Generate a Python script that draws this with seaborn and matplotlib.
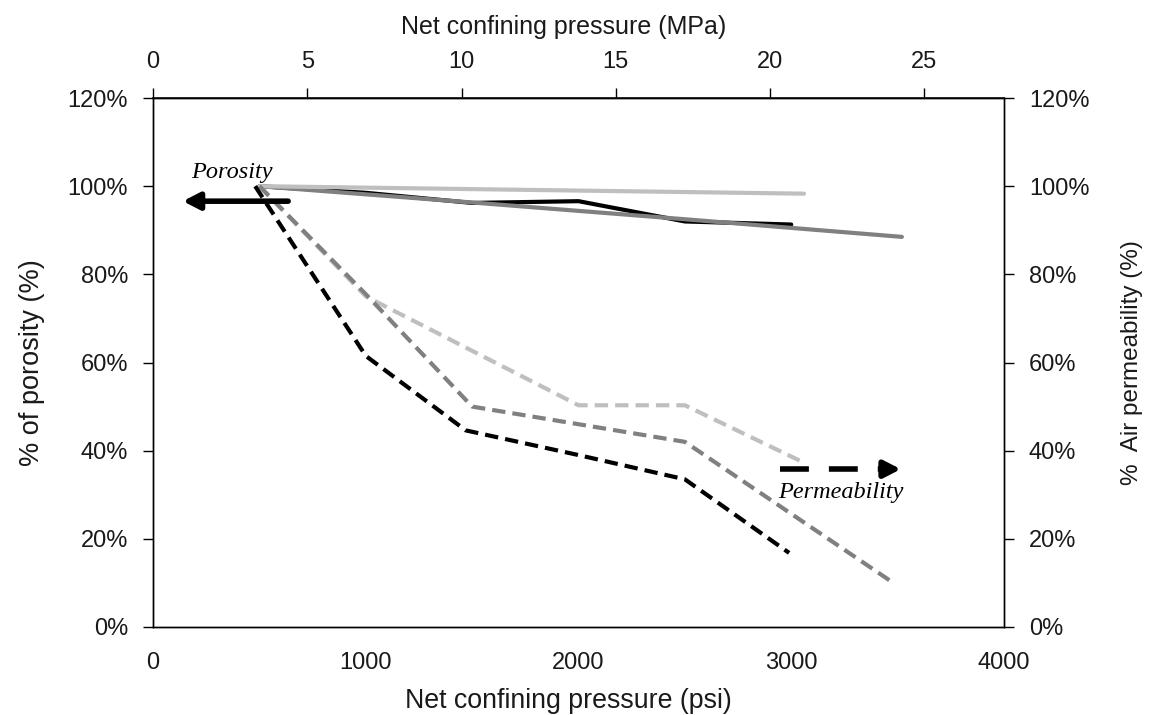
import matplotlib
matplotlib.use("Agg")
import matplotlib.pyplot as plt
from matplotlib.ticker import FuncFormatter
import seaborn as sns

# Porosity (left axis, fraction of initial) vs net confining pressure (psi)
por_light_psi = [500, 3060]
por_light_val = [1.00, 0.983]
por_black_psi = [500, 1000, 1500, 2000, 2500, 3000]
por_black_val = [1.00, 0.985, 0.962, 0.966, 0.920, 0.913]
por_gray_psi = [500, 1500, 2500, 3520]
por_gray_val = [1.00, 0.963, 0.925, 0.885]

# Air permeability (right axis, fraction of initial)
perm_light_psi = [500, 1000, 2000, 2500, 3050]
perm_light_val = [1.00, 0.75, 0.503, 0.503, 0.375]
perm_gray_psi = [500, 1000, 1500, 2000, 2500, 3480]
perm_gray_val = [1.00, 0.755, 0.50, 0.46, 0.42, 0.10]
perm_black_psi = [480, 1000, 1470, 2000, 2500, 2990]
perm_black_val = [1.00, 0.615, 0.446, 0.39, 0.335, 0.168]

x_ticks_psi = [0, 1000, 2000, 3000, 4000]
x_ticks_mpa = [0, 5, 10, 15, 20, 25]
y_ticks = [0.0, 0.2, 0.4, 0.6, 0.8, 1.0, 1.2]

PSI_TO_MPA = 0.00689476

sns.set_theme(style="white")
plt.rcParams["font.family"] = ["Liberation Sans", "DejaVu Sans"]

LIGHT = "#bfbfbf"
GRAY = "#808080"
BLACK = "#000000"
TEXT = "#1a1a1a"

fig = plt.figure(figsize=(11.49, 7.15), dpi=100)
ax = fig.add_axes([0.1332, 0.1231, 0.8738 - 0.1332, 0.8629 - 0.1231])
ax2 = ax.twinx()

lw = 3.0
sns.lineplot(x=por_black_psi, y=por_black_val, ax=ax, color=BLACK, lw=lw)
sns.lineplot(x=por_gray_psi, y=por_gray_val, ax=ax, color=GRAY, lw=lw)
sns.lineplot(x=por_light_psi, y=por_light_val, ax=ax, color=LIGHT, lw=lw)

dash = (0, (3.2, 1.7))
sns.lineplot(x=perm_light_psi, y=perm_light_val, ax=ax2, color=LIGHT, lw=lw, linestyle=dash)
sns.lineplot(x=perm_gray_psi, y=perm_gray_val, ax=ax2, color=GRAY, lw=lw, linestyle=dash)
sns.lineplot(x=perm_black_psi, y=perm_black_val, ax=ax2, color=BLACK, lw=lw, linestyle=dash)

for a in (ax, ax2):
    a.set_xlim(0, 4000)
    a.set_ylim(0, 1.2)
    a.set_yticks(y_ticks)
    a.yaxis.set_major_formatter(FuncFormatter(lambda v, p: f"{v * 100:.0f}%"))
    for s in a.spines.values():
        s.set_color("black")
        s.set_linewidth(1.0)

ax.set_xticks(x_ticks_psi)
tick_kw = dict(direction="out", length=7, width=1.0, color="black", labelsize=17, labelcolor=TEXT)
ax.tick_params(axis="x", pad=11, **tick_kw)
ax.tick_params(axis="y", pad=11, left=True, **tick_kw)
ax2.tick_params(axis="y", pad=11, right=True, **tick_kw)

ax.set_xlabel("Net confining pressure (psi)", fontsize=19.3, labelpad=10, color=TEXT)
ax.xaxis.label.set_x(0.488)
ax.set_ylabel("% of porosity (%)", fontsize=19.5, labelpad=16, color=TEXT)
ax2.set_ylabel("%  Air permeability (%)", fontsize=17.5, labelpad=23, color=TEXT)

top = ax.secondary_xaxis("top", functions=(lambda p: p * PSI_TO_MPA, lambda m: m / PSI_TO_MPA))
top.set_xticks(x_ticks_mpa)
top.tick_params(axis="x", pad=11, **tick_kw)
top.set_xlabel("Net confining pressure (MPa)", fontsize=18, labelpad=12, color=TEXT)
top.xaxis.label.set_x(0.483)

# Annotation arrows and labels
head = "-|>,head_length=0.7,head_width=0.36"
ax2.annotate("", xy=(140, 0.966), xytext=(635, 0.966),
             arrowprops=dict(arrowstyle=head, lw=4, color=BLACK,
                             shrinkA=0, shrinkB=0, mutation_scale=14))
ax2.text(371, 1.032, "Porosity", fontsize=17.5, style="italic",
         family=["Liberation Serif", "DejaVu Serif"], ha="center", va="center", color=BLACK)

ax2.plot([2947, 3440], [0.358, 0.358], color=BLACK, lw=4, linestyle=(0, (5.2, 3.6)),
         solid_capstyle="butt")
ax2.annotate("", xy=(3515, 0.358), xytext=(3430, 0.358),
             arrowprops=dict(arrowstyle=head, lw=4, color=BLACK,
                             shrinkA=0, shrinkB=0, mutation_scale=14))
ax2.text(3234, 0.304, "Permeability", fontsize=17.5, style="italic",
         family=["Liberation Serif", "DejaVu Serif"], ha="center", va="center", color=BLACK)

fig.savefig("out.png", dpi=100)
